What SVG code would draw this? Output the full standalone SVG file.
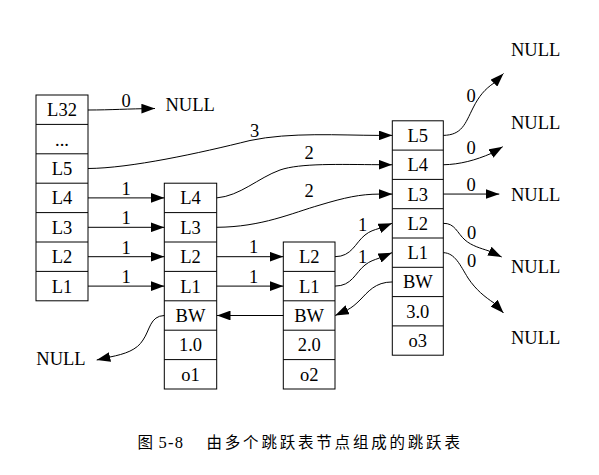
<svg xmlns="http://www.w3.org/2000/svg" width="599" height="475" viewBox="0 0 599 475">
<defs>
<style>
.box{fill:#fff;stroke:#000;stroke-width:1}
.sep{stroke:#000;stroke-width:1}
.t{font-family:"Liberation Serif","Times New Roman",serif;font-size:18.5px;fill:#000;text-anchor:middle}
.ts{font-family:"Liberation Serif","Times New Roman",serif;font-size:18.5px;fill:#000}
.e{fill:none;stroke:#000;stroke-width:1;marker-end:url(#ah)}
.cap{font-family:"Noto Sans CJK SC",sans-serif;font-size:15.5px;fill:#000;letter-spacing:2.8px}
.capn{font-family:"Liberation Serif","Times New Roman",serif;font-size:16.5px;fill:#000;letter-spacing:1.2px}
</style>
<marker id="ah" markerUnits="userSpaceOnUse" markerWidth="13.6" markerHeight="9.8" refX="13.6" refY="4.9" orient="auto" viewBox="0 0 13.6 9.8">
<path d="M0,0 L13.6,4.9 L0,9.8 z" fill="#000"/>
</marker>
</defs>
<rect width="599" height="475" fill="#fff"/>

<g id="header">
<rect class="box" x="36" y="95" width="52" height="205.8"/>
<path class="sep" d="M36,124.4H88M36,153.8H88M36,183.2H88M36,212.6H88M36,242H88M36,271.4H88"/>
<text class="t" x="62" y="116.2">L32</text>
<text class="t" x="62" y="145.6">...</text>
<text class="t" x="62" y="175">L5</text>
<text class="t" x="62" y="204.4">L4</text>
<text class="t" x="62" y="233.8">L3</text>
<text class="t" x="62" y="263.2">L2</text>
<text class="t" x="62" y="292.6">L1</text>
</g>

<g id="node1">
<rect class="box" x="164.3" y="183.2" width="52.4" height="205.8"/>
<path class="sep" d="M164.3,212.6H216.7M164.3,242H216.7M164.3,271.4H216.7M164.3,300.8H216.7M164.3,330.2H216.7M164.3,359.6H216.7"/>
<text class="t" x="190.5" y="204.4">L4</text>
<text class="t" x="190.5" y="233.8">L3</text>
<text class="t" x="190.5" y="263.2">L2</text>
<text class="t" x="190.5" y="292.6">L1</text>
<text class="t" x="190.5" y="322">BW</text>
<text class="t" x="190.5" y="351.4">1.0</text>
<text class="t" x="190.5" y="380.8">o1</text>
</g>

<g id="node2">
<rect class="box" x="283.3" y="242" width="51.7" height="147"/>
<path class="sep" d="M283.3,271.4H335M283.3,300.8H335M283.3,330.2H335M283.3,359.6H335"/>
<text class="t" x="309.2" y="263.2">L2</text>
<text class="t" x="309.2" y="292.6">L1</text>
<text class="t" x="309.2" y="322">BW</text>
<text class="t" x="309.2" y="351.4">2.0</text>
<text class="t" x="309.2" y="380.8">o2</text>
</g>

<g id="node3">
<rect class="box" x="392.3" y="120.8" width="51" height="234.4"/>
<path class="sep" d="M392.3,150.1H443.3M392.3,179.4H443.3M392.3,208.7H443.3M392.3,238H443.3M392.3,267.3H443.3M392.3,296.6H443.3M392.3,325.9H443.3"/>
<text class="t" x="417.8" y="141.95">L5</text>
<text class="t" x="417.8" y="171.25">L4</text>
<text class="t" x="417.8" y="200.55">L3</text>
<text class="t" x="417.8" y="229.85">L2</text>
<text class="t" x="417.8" y="259.15">L1</text>
<text class="t" x="417.8" y="288.45">BW</text>
<text class="t" x="417.8" y="317.75">3.0</text>
<text class="t" x="417.8" y="347.05">o3</text>
</g>

<g id="null-nodes">
<text class="ts" x="165.5" y="110.7">NULL</text>
<text class="ts" x="36.3" y="365">NULL</text>
<text class="ts" x="511" y="56">NULL</text>
<text class="ts" x="511" y="129">NULL</text>
<text class="ts" x="511" y="201">NULL</text>
<text class="ts" x="511" y="272.5">NULL</text>
<text class="ts" x="511" y="344">NULL</text>
</g>

<g id="connectors">
<path class="e" d="M88,110 C112,110 126,108.8 155,108.5"/>
<path class="e" d="M88,168.5 C130,168.3 200,153 250,140.5 C290,132 340,135.3 378.9,135.4 L392.3,135.4"/>
<path class="e" d="M88,197.9 L164.3,197.9"/>
<path class="e" d="M88,227.3 L164.3,227.3"/>
<path class="e" d="M88,256.7 L164.3,256.7"/>
<path class="e" d="M88,286.1 L164.3,286.1"/>
<path class="e" d="M216.7,197.9 C240,196 258,178 280,170 C300,163 340,164.5 379,164.7 L392.3,164.75"/>
<path class="e" d="M216.7,227.3 C262,227 292,213 320,205 C345,197.5 360,194.2 379,194.1 L392.3,194.05"/>
<path class="e" d="M216.7,256.7 L283.3,256.7"/>
<path class="e" d="M216.7,286.1 L283.3,286.1"/>
<path class="e" d="M335,256.7 C352,256.5 355,243 365,235 C370,231 374,230 379.5,228.3 L392,223.35"/>
<path class="e" d="M335,286.1 C352,286 355,273 365,265 C370,261 374,260 379.5,258 L392,252.65"/>
<path class="e" d="M392.3,281.95 C375,282 368,292 360,300 C356,304 352,307.5 347.5,309.8 L335.2,315.5"/>
<path class="e" d="M283.3,315.5 L216.9,315.5"/>
<path class="e" d="M164.3,315.5 C150,316 150,330 143,340 C137,350 125,354 110,357 L96.7,360"/>
<path class="e" d="M443.3,135.4 C462,135 465,124 473,108 C479,96 485,89 494,83 L503.5,73.5"/>
<path class="e" d="M443.3,164.75 C460,164.5 476,160 491,153.5 L502.7,146.7"/>
<path class="e" d="M443.3,194.05 L499.3,194.05"/>
<path class="e" d="M443.3,223.35 C455,223 457,233 465,240 C472,246 480,248 489,251 L501.7,257"/>
<path class="e" d="M443.3,252.65 C455,253 460,265 468,278 C476,290 485,297 494,303 L503.5,313"/>
<text class="t" x="126" y="106.5">0</text>
<text class="t" x="254.5" y="136.7">3</text>
<text class="t" x="126" y="195">1</text>
<text class="t" x="126" y="224.4">1</text>
<text class="t" x="126" y="253.8">1</text>
<text class="t" x="126" y="283.2">1</text>
<text class="t" x="309" y="158.8">2</text>
<text class="t" x="309" y="197">2</text>
<text class="t" x="253.5" y="253.3">1</text>
<text class="t" x="253.5" y="282.7">1</text>
<text class="t" x="362.5" y="230.5">1</text>
<text class="t" x="362.5" y="263">1</text>
<text class="t" x="471" y="102">0</text>
<text class="t" x="471" y="154">0</text>
<text class="t" x="471" y="190.5">0</text>
<text class="t" x="471.5" y="238.5">0</text>
<text class="t" x="471.5" y="267">0</text>
</g>

<g id="caption">
<text class="cap" x="137.5" y="448.3">图</text>
<text class="capn" x="158.5" y="448.3">5-8</text>
<text class="cap" x="206.5" y="448.3">由多个跳跃表节点组成的跳跃表</text>
</g>
</svg>
